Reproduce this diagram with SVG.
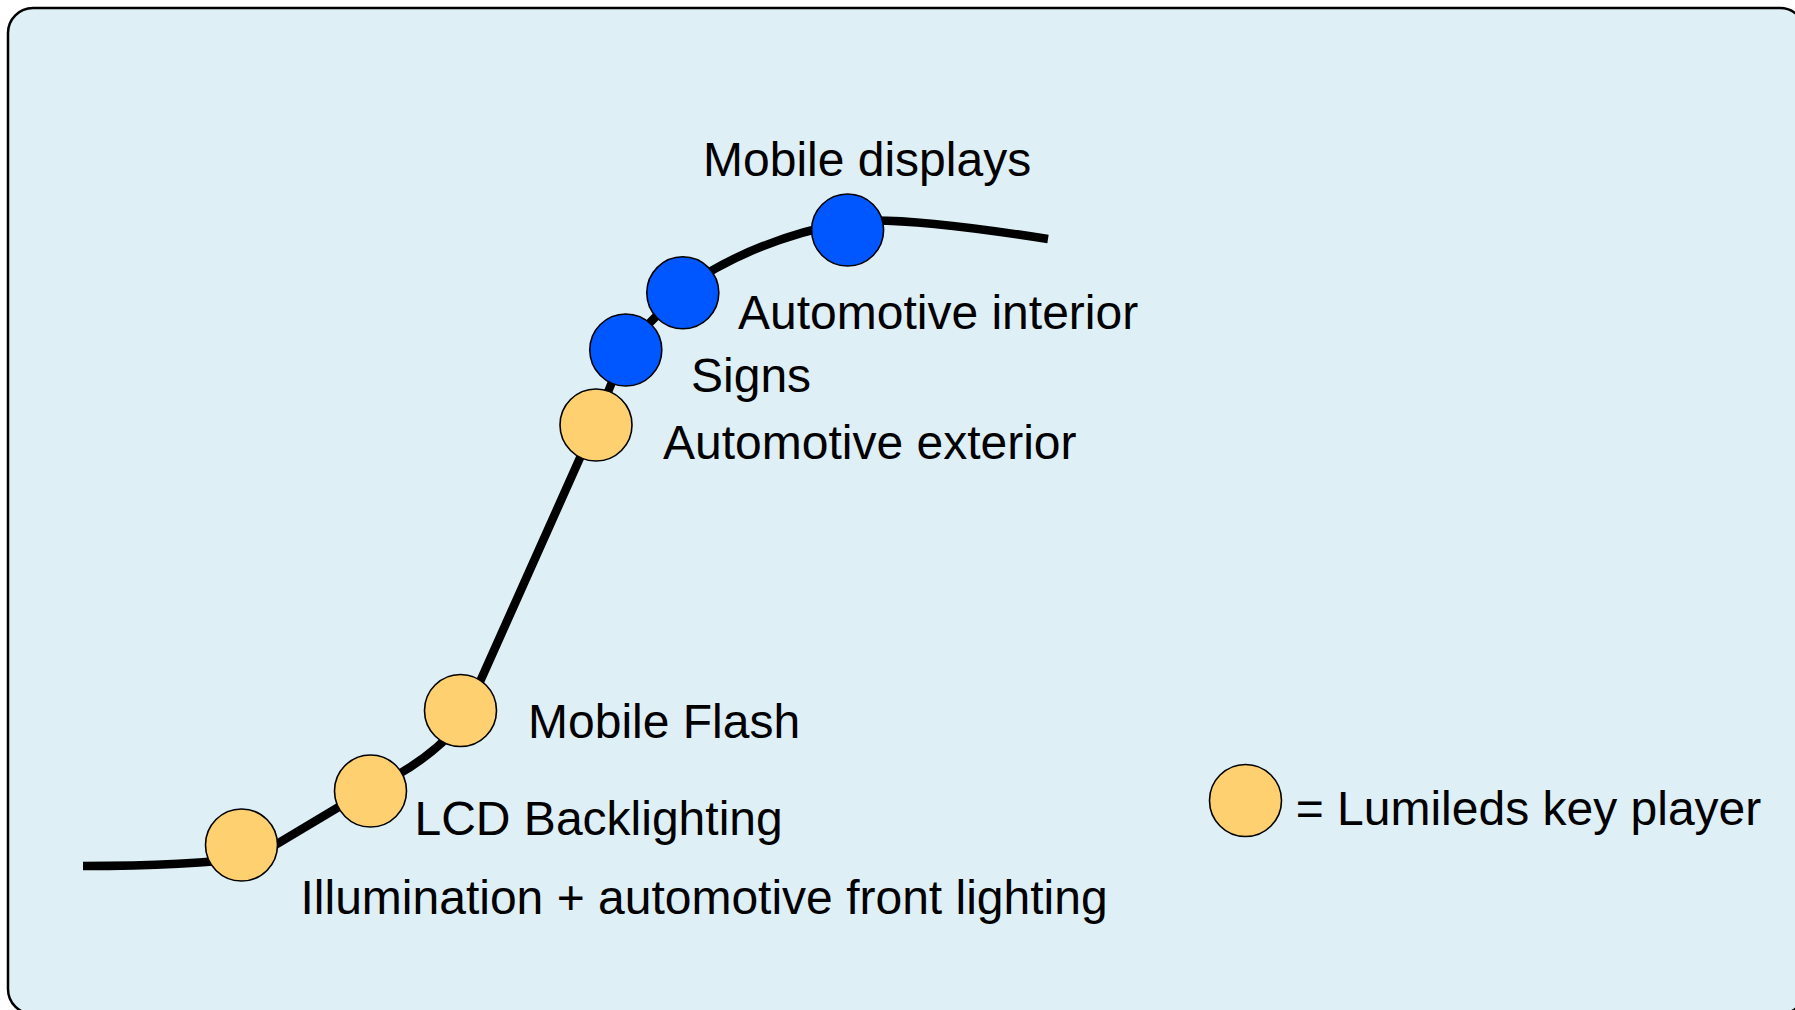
<svg xmlns="http://www.w3.org/2000/svg" width="1795" height="1010" viewBox="0 0 1795 1010">
  <style>
    .lbl { font-family: "Liberation Sans", Arial, Helvetica, sans-serif; font-size: 48px; fill: #000000; }
    .key { fill: #FFD070; stroke: #000000; stroke-width: 1.6; }
    .blue { fill: #0057FF; stroke: #000000; stroke-width: 1.6; }
    .curve { fill: none; stroke: #000000; stroke-width: 8.5; stroke-linejoin: round; }
  </style>
  <rect x="0" y="0" width="1795" height="1010" fill="#FFFFFF"/>
  <rect id="frame" x="8" y="8" width="1797" height="1006" rx="25" ry="25" fill="#DEEFF6" stroke="#000000" stroke-width="2.5"/>
  <g id="connectors">
    <path class="curve" d="M 83 866 C 150 866 210 863 255 857 L 370.5 788 Q 425 765 462 722 L 596 422 L 626 347 L 683 289 Q 752 240 848 222 Q 895 215 1048 239"/>
  </g>
  <g id="node-illumination">
    <circle class="key" cx="241.5" cy="845" r="36"/>
    <text class="lbl" x="300.5" y="914">Illumination + automotive front lighting</text>
  </g>
  <g id="node-lcd">
    <circle class="key" cx="370.5" cy="791" r="36"/>
    <text class="lbl" x="414.5" y="834.5">LCD Backlighting</text>
  </g>
  <g id="node-flash">
    <circle class="key" cx="460.5" cy="710.5" r="36"/>
    <text class="lbl" x="528" y="737.5">Mobile Flash</text>
  </g>
  <g id="node-auto-exterior">
    <circle class="key" cx="596" cy="425" r="36"/>
    <text class="lbl" x="663" y="458.5">Automotive exterior</text>
  </g>
  <g id="node-signs">
    <circle class="blue" cx="625.8" cy="350" r="36"/>
    <text class="lbl" x="691" y="392">Signs</text>
  </g>
  <g id="node-auto-interior">
    <circle class="blue" cx="682.8" cy="292.8" r="36"/>
    <text class="lbl" x="738" y="328.5">Automotive interior</text>
  </g>
  <g id="node-mobile-displays">
    <circle class="blue" cx="847.6" cy="230" r="36"/>
    <text class="lbl" x="703" y="175.5">Mobile displays</text>
  </g>
  <g id="legend">
    <circle class="key" cx="1245.5" cy="800.5" r="36"/>
    <text class="lbl" x="1295.7" y="824.5">= Lumileds key player</text>
  </g>
</svg>
